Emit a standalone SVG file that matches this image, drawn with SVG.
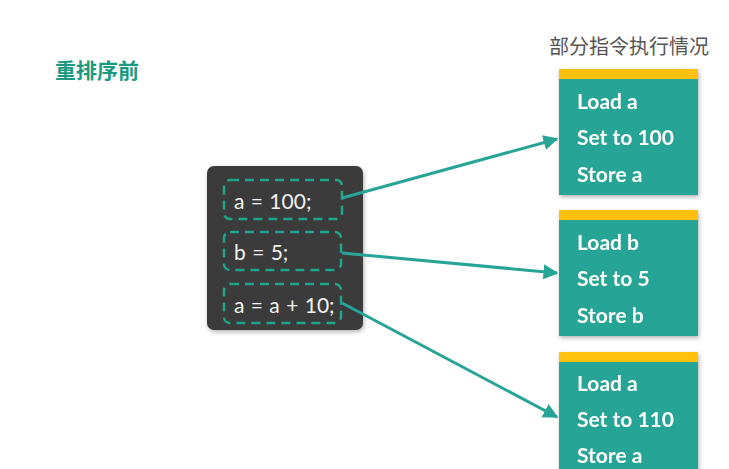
<svg xmlns="http://www.w3.org/2000/svg" width="729" height="469" viewBox="0 0 729 469">
<defs>
<style>
.code{font-family:Lato,"Open Sans",sans-serif;font-size:21px;fill:#f2f2f2;word-spacing:1px;}
.dash{fill:none;stroke:#1fa58a;stroke-width:2.5;stroke-dasharray:9 6;}
.card{fill:#27a495;}
.bar{fill:#ffc107;}
.lbl{font-family:Lato,"Open Sans",sans-serif;font-weight:bold;font-size:21px;fill:#ffffff;}
.conn{stroke:#27a495;stroke-width:3;fill:none;marker-end:url(#ah);}
</style>
<marker id="ah" viewBox="0 0 10 10" refX="9" refY="5" markerWidth="5" markerHeight="5" orient="auto" markerUnits="strokeWidth">
<path d="M0,0 L10,5 L0,10 z" fill="#27a495"/>
</marker>
<filter id="sh" x="-10%" y="-10%" width="130%" height="130%">
<feDropShadow dx="1" dy="2" stdDeviation="2" flood-color="#000" flood-opacity="0.3"/>
</filter>
</defs>
<rect width="729" height="469" fill="#ffffff"/>
<text x="55" y="78" font-family="'Noto Sans CJK SC',sans-serif" font-weight="bold" font-size="21" fill="#1a9a80">重排序前</text>
<text x="549" y="54" font-family="'Noto Sans CJK SC',sans-serif" font-size="20" fill="#555555">部分指令执行情况</text>
<g id="code">
<rect x="207" y="166" width="156" height="164" rx="7" fill="#3b3b3b" filter="url(#sh)"/>
<g id="s1"><rect class="dash" x="224" y="180" width="118" height="39" rx="6"/><text class="code" x="234" y="209">a = 100;</text></g>
<g id="s2"><rect class="dash" x="224" y="232" width="117" height="38" rx="6"/><text class="code" x="234" y="260">b = 5;</text></g>
<g id="s3"><rect class="dash" x="224" y="284" width="117" height="39" rx="6"/><text class="code" x="234" y="313">a = a + 10;</text></g>
</g>
<g id="n1" filter="url(#sh)">
<rect class="card" x="559" y="69" width="139" height="126"/>
<rect class="bar" x="559" y="69" width="139" height="10"/>
<text class="lbl" x="577" y="109">Load a</text>
<text class="lbl" x="577" y="145">Set to 100</text>
<text class="lbl" x="577" y="182">Store a</text>
</g>
<g id="n2" filter="url(#sh)">
<rect class="card" x="559" y="210" width="139" height="126"/>
<rect class="bar" x="559" y="210" width="139" height="10"/>
<text class="lbl" x="577" y="250">Load b</text>
<text class="lbl" x="577" y="286">Set to 5</text>
<text class="lbl" x="577" y="323">Store b</text>
</g>
<g id="n3" filter="url(#sh)">
<rect class="card" x="559" y="352" width="139" height="125"/>
<rect class="bar" x="559" y="352" width="139" height="10"/>
<text class="lbl" x="577" y="391">Load a</text>
<text class="lbl" x="577" y="427">Set to 110</text>
<text class="lbl" x="577" y="463">Store a</text>
</g>
<g id="connectors">
<line class="conn" x1="342" y1="198" x2="557" y2="139"/>
<line class="conn" x1="342" y1="253" x2="557" y2="273"/>
<line class="conn" x1="342" y1="303" x2="557" y2="417"/>
</g>
</svg>
